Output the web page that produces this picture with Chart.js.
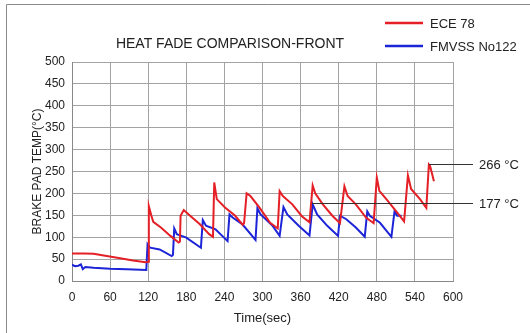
<!DOCTYPE html>
<html><head><meta charset="utf-8">
<script src="https://cdn.jsdelivr.net/npm/chart.js@4/dist/chart.umd.min.js"></script>
<style>html,body{margin:0;padding:0;background:#fff}#wrap{width:530px;height:333px;position:relative}</style>
</head><body><div id="wrap"><canvas id="c"></canvas></div>
<script>
const chartTitle = 'HEAT FADE COMPARISON-FRONT';
const seriesNames = ['ECE 78', 'FMVSS No122'];
const xTitle = 'Time(sec)';
const yTitle = 'BRAKE PAD TEMP(°C)';
const xTicks = [0, 60, 120, 180, 240, 300, 360, 420, 480, 540, 600];
const yTicks = [0, 50, 100, 150, 200, 250, 300, 350, 400, 450, 500];

const eceTime = [0, 20, 34, 50, 76, 96, 116, 120, 121, 123, 125, 128, 140, 155, 168, 170, 171, 176, 186, 201, 216, 222, 224, 228, 241, 257, 269, 271, 275, 281, 295, 312, 324, 327, 332, 347, 362, 374, 379, 383, 395, 410, 422, 429, 434, 447, 463, 475, 480, 484, 495, 510, 523, 529, 534, 548, 558, 562, 564, 567, 570];
const eceTemp = [63, 63, 62, 58, 52, 47, 43, 44, 171, 160, 149, 135, 122, 103, 88, 90, 149, 162, 149, 130, 107, 101, 225, 187, 168, 149, 128, 132, 200, 194, 168, 133, 120, 205, 194, 175, 148, 134, 218, 200, 175, 149, 132, 216, 194, 175, 145, 132, 236, 206, 187, 160, 136, 241, 210, 187, 167, 266, 262, 245, 228];

const fmvssTime = [0, 5, 10, 14, 17, 21, 34, 60, 86, 117, 119, 123, 138, 157, 159, 161, 165, 180, 203, 206, 211, 226, 245, 248, 253, 268, 289, 292, 297, 316, 327, 333, 339, 357, 374, 379, 386, 402, 419, 422, 432, 447, 461, 465, 469, 485, 503, 508, 512, 519];
const fmvssTemp = [37, 34, 35, 38, 27, 32, 30, 28, 27, 25, 84, 76, 72, 57, 60, 120, 107, 99, 76, 139, 126, 118, 91, 152, 145, 130, 94, 166, 152, 126, 103, 169, 152, 126, 104, 175, 152, 126, 103, 149, 141, 122, 101, 159, 149, 133, 101, 160, 149, 149];

const annotValues = [266, 177];
const annotStart = [562, 378];
const annotLabels = ['266 °C', '177 °C'];

const colors = ['#e41f26', '#1c24d8'];
const FONT = "'Liberation Sans', Arial, sans-serif";

function pts(t, v) { return t.map((x, i) => ({ x: x, y: v[i] })); }

const decor = {
  id: 'decor',
  afterDraw(chart) {
    const ctx = chart.ctx;
    const xs = chart.scales.x, ys = chart.scales.y;
    ctx.save();
    // frame
    ctx.strokeStyle = '#8a8a8a'; ctx.lineWidth = 1;
    ctx.beginPath(); ctx.moveTo(6.5, 333); ctx.lineTo(6.5, 4.5); ctx.lineTo(530, 4.5); ctx.stroke();
    // title
    ctx.fillStyle = '#222'; ctx.font = '14px ' + FONT;
    ctx.textAlign = 'center'; ctx.textBaseline = 'middle';
    ctx.fillText(chartTitle, 230, 44);
    // legend
    ctx.font = '13px ' + FONT; ctx.textAlign = 'left';
    const ly = [23, 46];
    seriesNames.forEach((n, i) => {
      ctx.strokeStyle = colors[i]; ctx.lineWidth = 2.5;
      ctx.beginPath(); ctx.moveTo(385, ly[i]); ctx.lineTo(423, ly[i]); ctx.stroke();
      ctx.fillStyle = '#222'; ctx.fillText(n, 430, ly[i] + 1);
    });
    // annotations
    annotValues.forEach((v, i) => {
      const y = Math.round(ys.getPixelForValue(v)) + 0.5;
      const x0 = xs.getPixelForValue(annotStart[i]);
      const x1 = chart.chartArea.right + 20;
      ctx.strokeStyle = '#333'; ctx.lineWidth = 1;
      ctx.beginPath(); ctx.moveTo(x0, y); ctx.lineTo(x1, y); ctx.stroke();
      ctx.fillStyle = '#222'; ctx.font = '13px ' + FONT;
      ctx.fillText(annotLabels[i], x1 + 6, y + 1);
    });
    ctx.restore();
  }
};

new Chart(document.getElementById('c'), {
  type: 'line',
  data: {
    datasets: [
      { label: seriesNames[0], data: pts(eceTime, eceTemp), borderColor: colors[0], borderWidth: 2, pointRadius: 0, tension: 0, fill: false },
      { label: seriesNames[1], data: pts(fmvssTime, fmvssTemp), borderColor: colors[1], borderWidth: 2, pointRadius: 0, tension: 0, fill: false }
    ]
  },
  options: {
    responsive: true, maintainAspectRatio: false, animation: false, devicePixelRatio: 1,
    layout: { padding: { top: 62, right: 77, left: 0, bottom: 0 } },
    plugins: { legend: { display: false }, title: { display: false }, tooltip: { enabled: false } },
    scales: {
      x: {
        type: 'linear', min: 0, max: 600,
        afterBuildTicks: s => { s.ticks = xTicks.map(v => ({ value: v })); },
        afterFit: s => { s.height = 52; },
        grid: { color: '#a3a3a3', drawTicks: false, lineWidth: 1 },
        border: { color: '#888', width: 1 },
        ticks: { padding: 9, color: '#222', font: { size: 12, family: FONT }, maxRotation: 0, autoSkip: false },
        title: { display: true, text: xTitle, color: '#222', font: { size: 13, family: FONT }, padding: { top: 0, bottom: 7 } }
      },
      y: {
        min: 0, max: 500,
        afterBuildTicks: s => { s.ticks = yTicks.map(v => ({ value: v })); },
        afterFit: s => { s.width = 72; },
        grid: { color: '#a3a3a3', drawTicks: false, lineWidth: 1 },
        border: { color: '#888', width: 1 },
        ticks: { padding: 7, color: '#222', font: { size: 12, family: FONT }, autoSkip: false },
        title: { display: true, text: yTitle, color: '#222', font: { size: 12, family: FONT }, padding: { top: 30, bottom: 0 } }
      }
    }
  },
  plugins: [decor]
});
</script>
</body></html>
